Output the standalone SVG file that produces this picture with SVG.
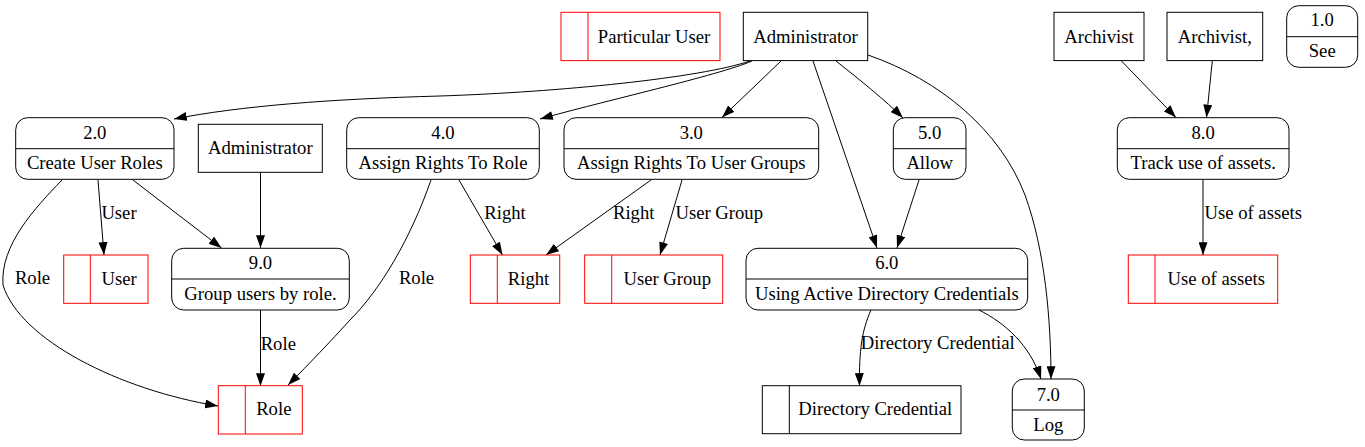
<svg xmlns="http://www.w3.org/2000/svg" width="1365" height="447" viewBox="0 0 1365 447">
<style>
text{font-family:'Liberation Serif','Times New Roman',serif;font-size:18.67px;fill:#000;text-anchor:middle}
.n{fill:none;stroke:#000;stroke-width:1}
.s{fill:none;stroke:#ff0000;stroke-width:1}
.e{fill:none;stroke:#000;stroke-width:1;marker-end:url(#ah)}
</style>
<defs>
<marker id="ah" viewBox="0 0 10 7" refX="10" refY="3.5" markerWidth="13" markerHeight="9" markerUnits="userSpaceOnUse" orient="auto">
<path d="M0,0 L10,3.5 L0,7 z" fill="#000"/>
</marker>
</defs>
<rect width="1365" height="447" fill="#fff"/>
<g id="connectors">
<path class="e" d="M750,61 C700,78 560,92 440,96 C330,99 240,106 174,119"/>
<path class="e" d="M752,61 C720,75 600,102 540,119"/>
<path class="e" d="M781,61 L722,117.5"/>
<path class="e" d="M836,61 C860,80 885,100 903,118"/>
<path class="e" d="M813,61 L877,248"/>
<path class="e" d="M868,55 C940,80 1000,130 1025,195 C1045,250 1051,320 1051,379"/>
<path class="e" d="M919,180 L897,248"/>
<path class="e" d="M979,310 C1005,323 1030,345 1041,379"/>
<path class="e" d="M871,310 C862,330 859,350 859.5,386"/>
<path class="e" d="M459,180 L502.5,255"/>
<path class="e" d="M651,180 L546,255"/>
<path class="e" d="M682,180 L660,255"/>
<path class="e" d="M431,180 C410,240 380,290 350,320 C330,342 310,363 288,385"/>
<path class="e" d="M62,180 C35,208 0,245 3,285 C20,340 120,390 218,406"/>
<path class="e" d="M98,180 L104,255"/>
<path class="e" d="M133,180 L221.5,248"/>
<path class="e" d="M260.5,172.5 L260.5,248"/>
<path class="e" d="M260.5,310 L260.5,386"/>
<path class="e" d="M1121.5,61 L1176,117.5"/>
<path class="e" d="M1212.3,61 L1206.5,117.5"/>
<path class="e" d="M1203,180 L1203,255"/>
<text x="119" y="219">User</text>
<text x="32.5" y="284">Role</text>
<text x="416.5" y="284">Role</text>
<text x="278.3" y="349.7">Role</text>
<text x="505" y="219">Right</text>
<text x="633.7" y="219">Right</text>
<text x="719.2" y="219">User Group</text>
<text x="937.8" y="349">Directory Credential</text>
<text x="1253.2" y="219">Use of assets</text>
</g>

<g id="particular_user">
<rect class="s" x="561" y="12.3" width="159" height="48.3"/>
<line class="s" x1="588" y1="12.3" x2="588" y2="60.6"/>
<text x="654" y="42.7">Particular User</text>
</g>
<g id="administrator_1">
<rect class="n" x="743.3" y="12.3" width="124.4" height="48.3"/>
<text x="805.5" y="42.7">Administrator</text>
</g>
<g id="archivist_1">
<rect class="n" x="1054" y="12.3" width="90" height="48.3"/>
<text x="1099" y="42.7">Archivist</text>
</g>
<g id="archivist_2">
<rect class="n" x="1167" y="12.3" width="95.7" height="48.3"/>
<text x="1214.8" y="42.7">Archivist,</text>
</g>
<g id="p1_0">
<rect class="n" x="1286.7" y="5.7" width="71" height="61.6" rx="12"/>
<line class="n" x1="1286.7" y1="36.7" x2="1357.7" y2="36.7"/>
<text x="1322.2" y="26.2">1.0</text>
<text x="1322.2" y="56.7">See</text>
</g>
<g id="p2_0">
<rect class="n" x="15.7" y="117.7" width="158.3" height="61.6" rx="12"/>
<line class="n" x1="15.7" y1="148.7" x2="174" y2="148.7"/>
<text x="94.8" y="138.7">2.0</text>
<text x="94.8" y="169.2">Create User Roles</text>
</g>
<g id="administrator_2">
<rect class="n" x="198.3" y="124.3" width="124" height="48"/>
<text x="260.3" y="154.2">Administrator</text>
</g>
<g id="p4_0">
<rect class="n" x="346.7" y="117.7" width="192.6" height="61.6" rx="12"/>
<line class="n" x1="346.7" y1="148.7" x2="539.3" y2="148.7"/>
<text x="443" y="138.7">4.0</text>
<text x="443" y="169.2">Assign Rights To Role</text>
</g>
<g id="p3_0">
<rect class="n" x="564" y="117.7" width="254.7" height="61.6" rx="12"/>
<line class="n" x1="564" y1="148.7" x2="818.7" y2="148.7"/>
<text x="691.3" y="138.7">3.0</text>
<text x="691.3" y="169.2">Assign Rights To User Groups</text>
</g>
<g id="p5_0">
<rect class="n" x="893.3" y="117.7" width="72.7" height="61.6" rx="12"/>
<line class="n" x1="893.3" y1="148.7" x2="966" y2="148.7"/>
<text x="929.7" y="138.7">5.0</text>
<text x="929.7" y="169.2">Allow</text>
</g>
<g id="p8_0">
<rect class="n" x="1117.3" y="117.7" width="171.7" height="61.6" rx="12"/>
<line class="n" x1="1117.3" y1="148.7" x2="1289" y2="148.7"/>
<text x="1203.2" y="138.7">8.0</text>
<text x="1203.2" y="169.2">Track use of assets.</text>
</g>
<g id="p9_0">
<rect class="n" x="171.7" y="248.3" width="177.6" height="61.7" rx="12"/>
<line class="n" x1="171.7" y1="279" x2="349.3" y2="279"/>
<text x="260.5" y="269.2">9.0</text>
<text x="260.5" y="299.7">Group users by role.</text>
</g>
<g id="p6_0">
<rect class="n" x="746" y="248.3" width="281.7" height="61.7" rx="12"/>
<line class="n" x1="746" y1="279" x2="1027.7" y2="279"/>
<text x="886.8" y="269.2">6.0</text>
<text x="886.8" y="299.7">Using Active Directory Credentials</text>
</g>
<g id="p7_0">
<rect class="n" x="1012.3" y="379" width="72" height="61" rx="12"/>
<line class="n" x1="1012.3" y1="410" x2="1084.3" y2="410"/>
<text x="1048.3" y="400.7">7.0</text>
<text x="1048.3" y="430.7">Log</text>
</g>
<g id="store_user">
<rect class="s" x="63.7" y="255" width="84.3" height="48.3"/>
<line class="s" x1="90.3" y1="255" x2="90.3" y2="303.3"/>
<text x="119.2" y="285.2">User</text>
</g>
<g id="store_role">
<rect class="s" x="218.3" y="385.7" width="84" height="48.3"/>
<line class="s" x1="245.3" y1="385.7" x2="245.3" y2="434"/>
<text x="273.8" y="415.2">Role</text>
</g>
<g id="store_right">
<rect class="s" x="470.3" y="255" width="89.4" height="48.3"/>
<line class="s" x1="497.3" y1="255" x2="497.3" y2="303.3"/>
<text x="528.5" y="285.2">Right</text>
</g>
<g id="store_user_group">
<rect class="s" x="584.7" y="255" width="138" height="48.3"/>
<line class="s" x1="611.7" y1="255" x2="611.7" y2="303.3"/>
<text x="667.2" y="285.2">User Group</text>
</g>
<g id="store_directory_credential">
<rect class="n" x="762.3" y="385.7" width="198.7" height="48"/>
<line class="n" x1="789.3" y1="385.7" x2="789.3" y2="433.7"/>
<text x="875.2" y="415.2">Directory Credential</text>
</g>
<g id="store_use_of_assets">
<rect class="s" x="1128.3" y="255" width="149.4" height="48.3"/>
<line class="s" x1="1155" y1="255" x2="1155" y2="303.3"/>
<text x="1216.3" y="285.2">Use of assets</text>
</g>
</svg>
